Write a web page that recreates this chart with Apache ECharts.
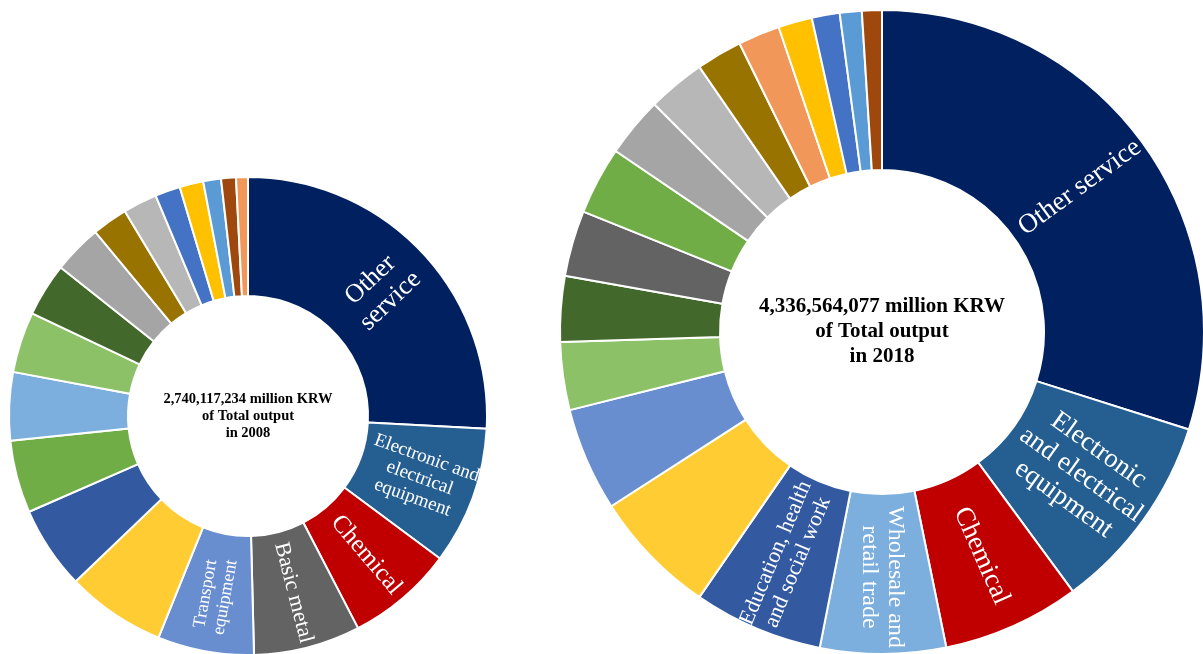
<!DOCTYPE html>
<html>
<head>
<meta charset="utf-8">
<script src="https://cdn.jsdelivr.net/npm/echarts@6/dist/echarts.min.js"></script>
<style>
html,body{margin:0;padding:0;background:#fff;}
#chart{width:1203px;height:654px;}
</style>
</head>
<body>
<div id="chart"></div>
<script>
// 2008 shares of total output (%), clockwise from 12 o'clock
const values2008 = [25.8, 9.3, 7.2, 7.2, 6.5, 6.7, 5.6, 4.9, 4.6, 4.1, 3.6, 3.3, 2.4, 2.3, 1.7, 1.6, 1.2, 1.0, 0.8];
const labels2008 = ["Other\nservice", "Electronic and\nelectrical\nequipment", "Chemical", "Basic metal", "Transport\nequipment",
  "", "", "", "", "", "", "", "", "", "", "", "", "", ""];
const colors2008 = ["#002060", "#255E91", "#C00000", "#636363", "#698ED0", "#FFCD33", "#335AA1", "#70AD47", "#7CAFDD",
  "#8CC168", "#43682B", "#A5A5A5", "#997300", "#B7B7B7", "#4472C4", "#FFC000", "#5B9BD5", "#9E480E", "#F1975A"];
const fontSizes2008 = [26, 19, 25, 22, 18];

// 2018 shares of total output (%)
const values2018 = [29.9, 10.0, 6.9, 6.3, 6.5, 6.3, 5.2, 3.4, 3.3, 3.3, 3.4, 3.0, 2.9, 2.3, 2.1, 1.7, 1.4, 1.1, 1.0];
const labels2018 = ["Other service", "Electronic\nand electrical\nequipment", "Chemical", "Wholesale and\nretail trade",
  "Education, health\nand social work", "", "", "", "", "", "", "", "", "", "", "", "", "", ""];
const colors2018 = ["#002060", "#255E91", "#C00000", "#7CAFDD", "#335AA1", "#FFCD33", "#698ED0", "#8CC168", "#43682B",
  "#636363", "#70AD47", "#A5A5A5", "#B7B7B7", "#997300", "#F1975A", "#FFC000", "#4472C4", "#5B9BD5", "#9E480E"];
const fontSizes2018 = [27, 27, 27, 24, 22];

const centerText2008 = "2,740,117,234 million KRW\nof Total output\nin 2008";
const centerText2018 = "4,336,564,077 million KRW\nof Total output\nin 2018";

const serif = '"Liberation Serif", "Times New Roman", serif';

function buildData(values, labels, colors, sizes) {
  return values.map((v, i) => {
    const item = {
      value: v,
      name: labels[i] || ('s' + i),
      itemStyle: { color: colors[i] }
    };
    if (labels[i]) {
      item.label = {
        show: true,
        formatter: labels[i],
        fontSize: sizes[i],
        lineHeight: Math.round(sizes[i] * 1.1)
      };
      if (labels[i] === "Wholesale and\nretail trade") item.label.rotate = -90;
    } else {
      item.label = { show: false };
    }
    return item;
  });
}

const chart = echarts.init(document.getElementById('chart'), null, { renderer: 'canvas' });

const baseSeries = {
  type: 'pie',
  startAngle: 90,
  clockwise: true,
  avoidLabelOverlap: false,
  silent: true,
  animation: false,
  labelLine: { show: false },
  itemStyle: { borderColor: '#ffffff', borderWidth: 2 },
  label: {
    position: 'inside',
    rotate: 'radial',
    color: '#ffffff',
    fontFamily: serif,
    align: 'center',
    verticalAlign: 'middle'
  },
  emphasis: { disabled: true }
};

chart.setOption({
  backgroundColor: '#ffffff',
  animation: false,
  series: [
    Object.assign({}, baseSeries, {
      name: '2008',
      center: [248, 416],
      radius: [120, 239],
      data: buildData(values2008, labels2008, colors2008, fontSizes2008)
    }),
    Object.assign({}, baseSeries, {
      name: '2018',
      center: [882, 332],
      radius: [162, 322],
      data: buildData(values2018, labels2018, colors2018, fontSizes2018)
    })
  ],
  graphic: [
    {
      type: 'text', z: 100,
      style: {
        text: centerText2008, fill: '#000', font: 'bold 14.5px ' + serif,
        textAlign: 'center', textVerticalAlign: 'middle', lineHeight: 17
      },
      x: 248, y: 416
    },
    {
      type: 'text', z: 100,
      style: {
        text: centerText2018, fill: '#000', font: 'bold 21px ' + serif,
        textAlign: 'center', textVerticalAlign: 'middle', lineHeight: 25
      },
      x: 882, y: 332
    }
  ]
});
</script>
</body>
</html>
